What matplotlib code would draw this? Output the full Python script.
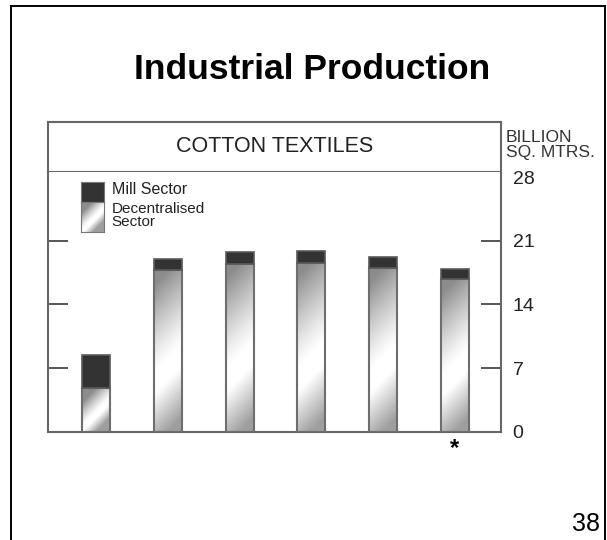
import numpy as np
import matplotlib
matplotlib.use("Agg")
import matplotlib.pyplot as plt
from matplotlib.lines import Line2D

plt.rcParams['font.family'] = ['Liberation Sans', 'DejaVu Sans']

# ---- data (billion sq. metres) ----
decentralised = [4.8, 17.8, 18.5, 18.6, 18.0, 16.8]
mill = [3.65, 1.2, 1.3, 1.3, 1.2, 1.05]
notes = ['', '', '', '', '', '*']
yticks = [0, 7, 14, 21, 28]
yticklabels = ['0', '7', '14', '21', '28']
minor_ticks = [7, 14, 21]

W, H = 607, 540
fig = plt.figure(figsize=(W / 100, H / 100), dpi=100)
fig.patch.set_facecolor('white')

def fx(px):
    return px / W

def fy(py):
    return 1 - py / H

# outer frame
for xs, ys in [((fx(11), fx(11)), (0, fy(6))),
               ((fx(11), fx(605)), (fy(6), fy(6))),
               ((fx(605), fx(605)), (0, fy(6)))]:
    fig.add_artist(Line2D(xs, ys, color='black', lw=1.4, transform=fig.transFigure))

# title
fig.text(fx(312), fy(79), 'Industrial Production', ha='center', va='baseline',
         fontsize=25.5, fontweight='bold', color='black')
fig.text(fx(586), fy(531), '38', ha='center', va='baseline', fontsize=18, color='black')

frame_col = '#666666'
L, R, B, T, HT = 48, 500.7, 431.7, 171.7, 122.3

# header box
hax = fig.add_axes([fx(L), fy(T), fx(R) - fx(L), fy(HT) - fy(T)])
hax.set_xticks([]); hax.set_yticks([])
for sp in hax.spines.values():
    sp.set_color(frame_col); sp.set_linewidth(1.5)
hax.text(0.5, 0.5, 'COTTON TEXTILES', ha='center', va='center', fontsize=15.5,
         color='#222222', transform=hax.transAxes)

fig.text(fx(506), fy(137.5), 'BILLION', ha='left', va='center', fontsize=12.5, color='#333333')
fig.text(fx(506), fy(153), 'SQ. MTRS.', ha='left', va='center', fontsize=12.5, color='#333333')

# main axes
ax = fig.add_axes([fx(L), fy(B), fx(R) - fx(L), fy(T) - fy(B)])
ax.set_facecolor('white')
for k in ['left', 'right', 'bottom']:
    ax.spines[k].set_color(frame_col); ax.spines[k].set_linewidth(1.5)
ax.spines['top'].set_visible(False)

x = np.arange(len(decentralised))
width = 0.39
ppu = (B - T) / 28.6  # pixels per unit


def grad_image(h_px, w_px, ny=220, nx=40):
    t = np.linspace(0, 1, ny)[:, None]
    s = np.linspace(0, 1, nx)[None, :]
    u = t - (s - 0.5) * w_px / h_px
    upper = np.clip((u - 0.45) / 0.55, 0, 1) ** 1.2
    lower = np.clip((0.32 - u) / 0.32, 0, 1)
    return 1 - 0.45 * upper - 0.38 * lower

dec_bars = ax.bar(x, decentralised, width=width, facecolor='none',
                  edgecolor='#6e6e6e', linewidth=1.5, zorder=3)
for xi, d, patch in zip(x, decentralised, dec_bars):
    img = grad_image(d * ppu, 28)
    im = ax.imshow(img, extent=(xi - width / 2, xi + width / 2, 0, d), origin='lower',
                   cmap='gray', vmin=0, vmax=1, aspect='auto', zorder=2,
                   interpolation='bilinear')
    im.set_clip_path(patch)

ax.bar(x, mill, bottom=decentralised, width=width, color='#333333',
       edgecolor='#5a5a5a', linewidth=1.2, zorder=3)

for xi, n in zip(x, notes):
    if n:
        ax.annotate(n, xy=(xi, 0), xytext=(0, -4), textcoords='offset points',
                    ha='center', va='top', fontsize=17, fontweight='bold', color='black')

ax.set_xlim(-0.669, 5.637)
ax.set_ylim(0, 28.6)
ax.set_xticks([])
ax.yaxis.tick_right()
ax.yaxis.remove_overlapping_locs = False
ax.set_yticks(yticks)
ax.set_yticklabels(yticklabels, fontsize=14, color='#222222')
ax.tick_params(axis='y', which='major', length=0, pad=8.5, right=True, left=False)
ax.set_yticks(minor_ticks, minor=True)
ax.tick_params(axis='y', which='minor', direction='in', length=14.5, width=1.4,
               color='#555555', left=True, right=True)

# legend
lax1 = fig.add_axes([fx(80.7), fy(202), fx(104) - fx(80.7), fy(182) - fy(202)])
lax1.set_facecolor('#333333')
lax2 = fig.add_axes([fx(80.7), fy(232), fx(104) - fx(80.7), fy(202) - fy(232)])
lax2.imshow(grad_image(30, 23.3), extent=(0, 1, 0, 1), origin='lower', cmap='gray',
            vmin=0, vmax=1, aspect='auto', interpolation='bilinear')
for a in (lax1, lax2):
    a.set_xticks([]); a.set_yticks([])
    for sp in a.spines.values():
        sp.set_color('#777777'); sp.set_linewidth(0.8)
fig.text(fx(111.5), fy(189), 'Mill Sector', ha='left', va='center', fontsize=11.5, color='#222222')
fig.text(fx(111.5), fy(215.5), 'Decentralised\nSector', ha='left', va='center',
         fontsize=11, linespacing=0.86, color='#222222')

fig.savefig('out.png', dpi=100, facecolor='white')
